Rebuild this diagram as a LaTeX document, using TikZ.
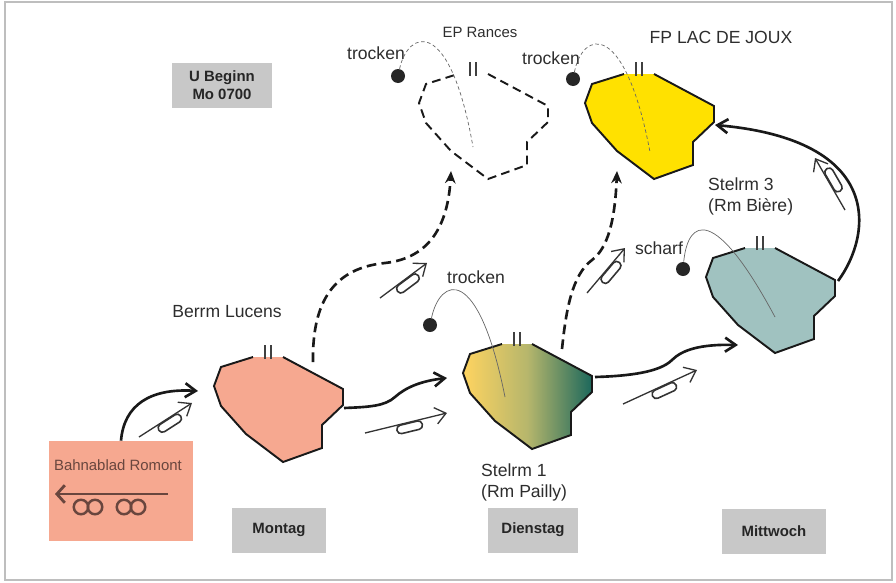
\documentclass[tikz,border=0pt]{standalone}
\usepackage{fontspec}
\setmainfont{Liberation Sans}
\usetikzlibrary{arrows.meta}
\definecolor{inkgrey}{RGB}{45,45,45}
\definecolor{boxgrey}{RGB}{200,200,200}
\definecolor{framegrey}{RGB}{190,190,190}
\definecolor{salmon}{RGB}{246,168,144}
\definecolor{trainbrown}{RGB}{105,70,62}
\definecolor{lakeyellow}{RGB}{255,225,0}
\definecolor{steelteal}{RGB}{160,194,192}
\definecolor{paillyyellow}{RGB}{255,212,96}
\definecolor{paillyolive}{RGB}{182,182,108}
\definecolor{paillyteal}{RGB}{28,104,92}
\tikzset{
  note/.style={font=\fontsize{10}{12}\selectfont, text=inkgrey, align=left},
  small note/.style={note, font=\fontsize{8.5}{10}\selectfont},
  daybox/.style={fill=boxgrey, text=black!85, font=\fontsize{8.5}{10}\selectfont\bfseries, minimum height=0.9cm, align=center},
  dot/.style={circle, fill=black!85, minimum size=0.28cm, inner sep=0pt},
  feel/.style={line width=0.4pt, draw=black!60},
  area line/.style={line width=1.1pt, draw=black!90},
  area mark/.style={line width=1pt, draw=black!75},
  move/.style={line width=1.5pt, draw=black!90, -{Straight Barb[length=6pt,width=8pt]}},
  probe/.style={move, dash pattern=on 5.5pt off 3pt, -{Stealth[length=7pt,width=6pt]}},
  march/.style={line width=0.75pt, draw=black!80, -{Straight Barb[length=6pt,width=9.5pt]}},
  bag/.style={draw=black!80, line width=0.9pt, rounded corners=0.08cm, minimum width=0.52cm, minimum height=0.17cm, inner sep=0pt, sloped, anchor=north, pos=0.53},
  train/.style={line width=1.6pt, draw=trainbrown},
  wheel/.style={line width=1.4pt, draw=trainbrown},
  area/.pic={
    \draw[area line,#1] (15,0) -- (75,32) -- (75,48) -- (54,68) -- (54,91) -- (15,105) -- (-22,77) -- (-47,49) -- (-54,29) -- (-47,10) -- (-15,0);
    \draw[area mark] (-3,-12) -- (-3,2) (3,-12) -- (3,2);
    \coordinate (-in) at (-70,34);
    \coordinate (-up) at (45,5);
    \coordinate (-ne) at (78,33);
    \coordinate (-se) at (76,51);
    \coordinate (-below) at (-22,97);
  }
}

\begin{document}
\begin{tikzpicture}[x=0.02cm,y=-0.02cm]
  \useasboundingbox (0,0) rectangle (896,582);
  \draw[framegrey, line width=0.6pt] (5,2) rectangle (892,580);

  \node[daybox, minimum width=2cm] (start) at (222,85) {U Beginn\\Mo 0700};
  \node[daybox, minimum width=1.88cm] (montag) at (279,530) {Montag};
  \node[daybox, minimum width=1.8cm] (dienstag) at (533,530) {Dienstag};
  \node[daybox, minimum width=2.1cm] (mittwoch) at (774,531) {Mittwoch};

  \node[fill=salmon, minimum width=2.88cm, minimum height=2cm] (romont) at (121,491) {};
  \node[small note, text=trainbrown] (romontname) at (118,465) {Bahnablad Romont};
  \draw[train, -{Straight Barb[length=4.5pt,width=10pt]}] (168,494) -- (55,494);
  \foreach \x in {81,95,124,138}
    \draw[wheel] (\x,507) circle[radius=0.145cm];

  \pic (lucens) at (268,357) {area={fill=salmon}};
  \pic (pailly) at (517,344) {area={left color=paillyyellow, right color=paillyteal, middle color=paillyolive}};
  \pic (biere) at (760,248) {area={fill=steelteal}};
  \pic (joux) at (639,74) {area={fill=lakeyellow}};
  \pic (rances) at (473,74) {area={dash pattern=on 5pt off 3pt}};

  \node[note] (lucensname) at (227,312) {Berrm Lucens};
  \node[note, anchor=west] (paillyname) at (475,482) {Stelrm 1\\(Rm Pailly)};
  \node[note, anchor=west] (biername) at (702,196) {Stelrm 3\\(Rm Bière)};
  \node[note] (jouxname) at (721,37) {FP LAC DE JOUX};
  \node[small note] (rancesname) at (480,32) {EP Rances};

  \node[dot] (dotrances) at (398,76) {};
  \node[dot] (dotjoux) at (573,79) {};
  \node[dot] (dotpailly) at (430,325) {};
  \node[dot] (dotbiere) at (683,269) {};
  \node[note] (trockenrances) at (376,53) {trocken};
  \node[note] (trockenjoux) at (551,58) {trocken};
  \node[note] (trockenpailly) at (476,277) {trocken};
  \node[note] (scharf) at (659,248) {scharf};

  \draw[feel, dash pattern=on 2pt off 1.5pt] (dotrances) .. controls (408,30) and (450,15) .. (473,147);
  \draw[feel, dash pattern=on 2pt off 1.5pt] (dotjoux) .. controls (583,30) and (625,20) .. (650,152);
  \draw[feel] (dotpailly) .. controls (440,278) and (478,262) .. (505,397);
  \draw[feel] (dotbiere) .. controls (688,218) and (715,205) .. (775,317);

  \draw[move] (romont.north) .. controls (124,405) and (150,388) .. (lucens-in);
  \draw[move] (lucens-se) .. controls (370,407) and (385,406) .. (395,397) .. controls (405,388) and (420,381) .. (pailly-in);
  \draw[move] (pailly-ne) .. controls (630,376) and (660,372) .. (672,360) .. controls (682,350) and (700,344) .. (biere-below);
  \draw[move] (biere-ne) .. controls (872,235) and (885,140) .. (joux-se);
  \draw[probe] (lucens-up) .. controls (312,300) and (335,268) .. (385,263) .. controls (430,258) and (448,225) .. (rances-below);
  \draw[probe] (pailly-up) .. controls (566,310) and (572,275) .. (592,260) .. controls (608,248) and (615,220) .. (joux-below);

  \draw[march] (139,437) -- node[bag] {} (192,403);
  \draw[march] (365,433) -- node[bag] {} (447,413);
  \draw[march] (623,404) -- node[bag] {} (697,370);
  \draw[march] (845,210) -- node[bag, anchor=south] {} (815,158);
  \draw[march] (380,298) -- node[bag] {} (427,263);
  \draw[march] (587,293) -- node[bag] {} (625,248);
\end{tikzpicture}
\end{document}
